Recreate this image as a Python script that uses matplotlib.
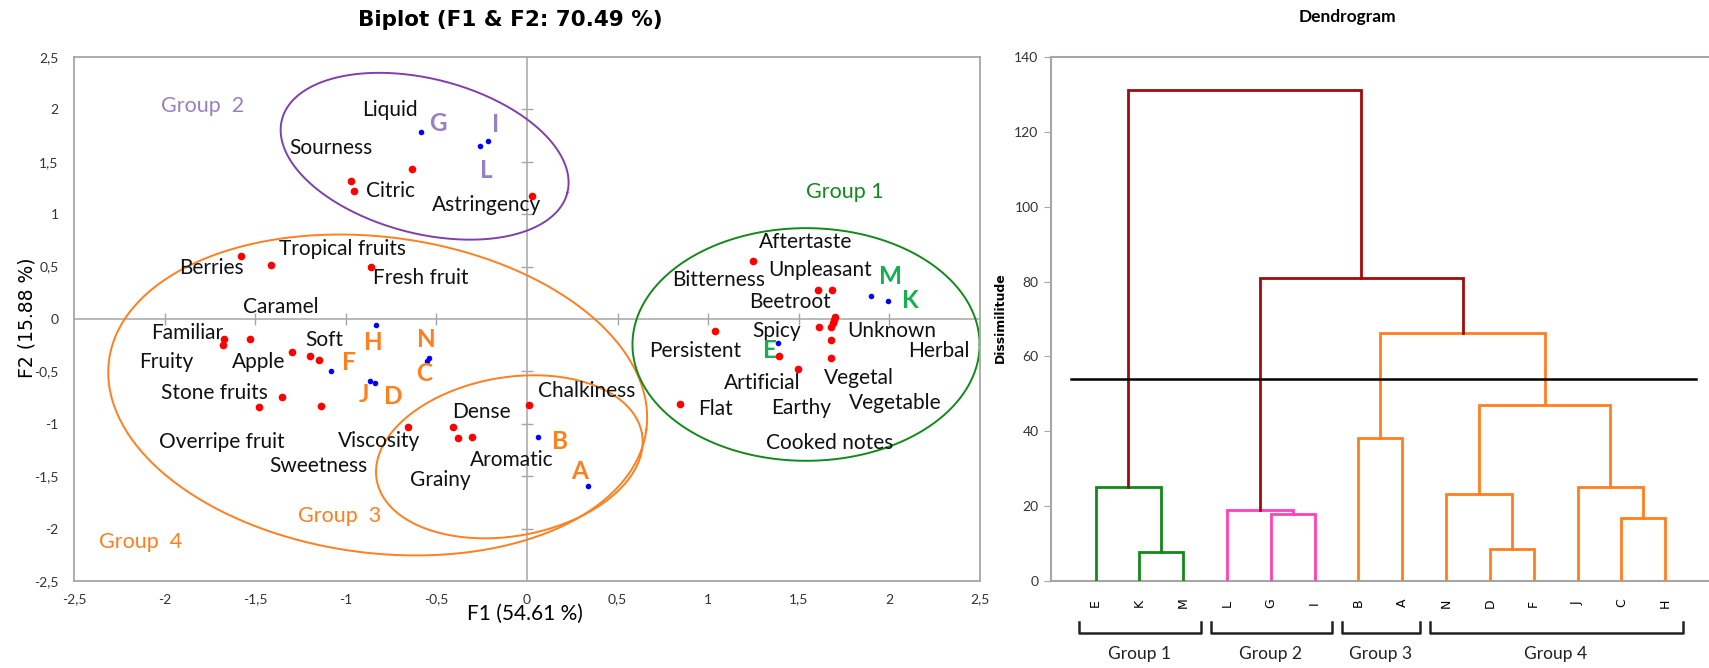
import numpy as np
import matplotlib.pyplot as plt

plt.rcParams['font.family'] = ['Lato', 'DejaVu Sans']

# ---- biplot data ----
# attributes (red)
attr_x = [-0.635, -0.973, -0.956, 0.030,
          -1.579, -1.414, -0.860,
          -1.670, -1.677, -1.527, -1.296, -1.195, -1.150, -1.350, -1.478, -1.135,
          0.012, -0.658, -0.406, -0.379, -0.303,
          1.249, 1.604, 1.681, 1.035, 1.700, 1.695, 1.687, 1.680, 1.613, 1.676, 1.676, 1.388, 1.493, 0.846]
attr_y = [1.430, 1.320, 1.218, 1.171,
          0.604, 0.516, 0.497,
          -0.190, -0.250, -0.190, -0.315, -0.356, -0.388, -0.748, -0.839, -0.830,
          -0.820, -1.028, -1.028, -1.134, -1.127,
          0.553, 0.273, 0.273, -0.118, 0.016, -0.010, -0.040, -0.080, -0.073, -0.200, -0.372, -0.353, -0.474, -0.807]
attr_names = ["Liquid", "Sourness", "Citric", "Astringency", "Tropical fruits", "Berries",
              "Fresh fruit", "Caramel", "Familiar", "Soft", "Fruity", "Apple", "Stone fruits",
              "Chalkiness", "Dense", "Overripe fruit", "Viscosity", "Aromatic", "Sweetness", "Grainy",
              "Aftertaste", "Unpleasant", "Bitterness", "Beetroot", "Spicy", "Unknown", "Persistent",
              "Herbal", "Artificial", "Vegetal", "Flat", "Earthy", "Vegetable", "Cooked notes"]
attr_lx = [-0.754, -1.081, -0.754, -0.224, -1.020, -1.739,
           -0.586, -1.357, -1.874, -1.121, -1.993, -1.480, -1.727,
           0.330, -0.249, -1.687, -0.815, -0.084, -1.153, -0.478,
           1.537, 1.617, 1.055, 1.452, 1.375, 2.013, 0.927,
           2.273, 1.297, 1.830, 1.042, 1.513, 2.031, 1.668]
attr_ly = [1.994, 1.630, 1.218, 1.085, 0.665, 0.484,
           0.389, 0.111, -0.133, -0.200, -0.411, -0.411, -0.703,
           -0.690, -0.886, -1.177, -1.165, -1.348, -1.402, -1.538,
           0.731, 0.467, 0.372, 0.165, -0.111, -0.118, -0.302,
           -0.302, -0.613, -0.566, -0.861, -0.852, -0.798, -1.179]

# observations (blue)
obs_names = ["G", "I", "L", "H", "F", "N", "C", "J", "D", "B", "A", "E", "M", "K"]
obs_x = [-0.586, -0.214, -0.259, -0.835, -1.079, -0.540, -0.550, -0.869, -0.837, 0.059, 0.335, 1.383, 1.896, 1.991]
obs_y = [1.780, 1.700, 1.652, -0.055, -0.495, -0.370, -0.400, -0.593, -0.606, -1.127, -1.595, -0.232, 0.222, 0.172]
obs_group = [2, 2, 2, 4, 4, 4, 4, 4, 4, 3, 3, 1, 1, 1]
obs_lx = [-0.493, -0.175, -0.227, -0.850, -0.985, -0.557, -0.569, -0.901, -0.736, 0.182, 0.288, 1.339, 2.004, 2.117]
obs_ly = [1.867, 1.858, 1.415, -0.222, -0.411, -0.200, -0.522, -0.718, -0.744, -1.165, -1.456, -0.296, 0.410, 0.181]

f1_pct = 54.61
f2_pct = 15.88

# ---- dendrogram data ----
leaves = ["E", "K", "M", "L", "G", "I", "B", "A", "N", "D", "F", "J", "C", "H"]
merge_name = ["KM", "EKM", "GI", "LGI", "BA", "DF", "NDF", "CH", "JCH", "G4", "G34", "G234", "ALL"]
merge_left = ["K", "E", "G", "L", "B", "D", "N", "C", "J", "NDF", "BA", "LGI", "EKM"]
merge_right = ["M", "KM", "I", "GI", "A", "F", "DF", "H", "CH", "JCH", "G4", "G34", "G234"]
merge_height = [7.8, 25.1, 17.9, 19.1, 38.1, 8.6, 23.3, 16.7, 25.1, 46.9, 66.2, 81.0, 131.1]
cut_level = 54
group_names = ["Group 1", "Group 2", "Group 3", "Group 4"]
group_first = [0, 3, 6, 8]
group_last = [2, 5, 7, 13]

orange = "#ff7f1e"
green_dk = "#118a1a"
green_lt = "#16b04e"
purple = "#7f3fae"
purple_lt = "#9a80c0"
pink = "#ff3fc0"
darkred = "#a30a0a"
gray = "#a6a6a6"

fig = plt.figure(figsize=(17.09, 6.68), dpi=100)
W, H = 1709, 668

# ================= biplot =================
ax = fig.add_axes([74 / W, 1 - 581 / H, 906 / W, 524 / H])
ax.set_xlim(-2.5, 2.5)
ax.set_ylim(-2.5, 2.5)
for s in ax.spines.values():
    s.set_color(gray)
    s.set_linewidth(1.3)
ax.axhline(0, color=gray, lw=1.1, zorder=1)
ax.axvline(0, color=gray, lw=1.1, zorder=1)

ticks = np.arange(-2.5, 2.51, 0.5)
labs = [("%g" % t).replace(".", ",") for t in ticks]
ax.set_xticks(ticks)
ax.set_xticklabels(labs)
ax.set_yticks(ticks)
ax.set_yticklabels(labs)
ax.tick_params(length=0, labelsize=10, labelcolor="#333333")
ax.tick_params(axis="x", pad=9)
ax.tick_params(axis="y", pad=11)
inner = ticks[(np.abs(ticks) > 0.01) & (np.abs(ticks) < 2.4)]
ax.plot(inner, np.zeros(len(inner)), ls="none", marker="|", ms=8, mew=1.0, color=gray, zorder=1)
ax.plot(np.zeros(len(inner)), inner, ls="none", marker="_", ms=8, mew=1.0, color=gray, zorder=1)

# group ellipses, semi-axes given in x units and corrected for the axes aspect
ky = (5 / 524) / (5 / 906)


def ring(cx, cy, a, b, ang, color):
    t = np.linspace(0, 2 * np.pi, 300)
    u = a * np.cos(t)
    v = b * np.sin(t)
    th = np.deg2rad(ang)
    xs = cx + u * np.cos(th) - v * np.sin(th)
    ys = cy + (u * np.sin(th) + v * np.cos(th)) * ky
    ax.plot(xs, ys, color=color, lw=1.4, zorder=2)


ring(-0.565, 1.553, 0.813, 0.427, -14.4, purple)
ring(-0.824, -0.725, 1.495, 0.872, -7.3, orange)
ring(-0.0975, -1.315, 0.743, 0.438, 9.9, orange)
ring(1.54, -0.243, 0.958, 0.642, 0, green_dk)

ax.plot(attr_x, attr_y, "o", color="#ff0000", ms=5.5, mec="none", zorder=3)
ax.plot(obs_x, obs_y, "o", color="#0000ff", ms=4, mec="none", zorder=3)

for n, x, y in zip(attr_names, attr_lx, attr_ly):
    ax.text(x, y, n, ha="center", va="center", fontsize=15, color="#111111")

letter_col = {1: green_lt, 2: purple_lt, 3: orange, 4: orange}
for n, x, y, g in zip(obs_names, obs_lx, obs_ly, obs_group):
    ax.text(x, y, n, ha="center", va="center", fontsize=17.5, fontweight="bold", color=letter_col[g])

ax.text(-1.788, 2.035, "Group  2", ha="center", va="center", fontsize=15.5, color=purple_lt)
ax.text(1.755, 1.214, "Group 1", ha="center", va="center", fontsize=15.5, color=green_dk)
ax.text(-1.032, -1.877, "Group  3", ha="center", va="center", fontsize=15.5, color=orange)
ax.text(-2.133, -2.127, "Group  4", ha="center", va="center", fontsize=15.5, color=orange)

fig.text(510 / W, 1 - 20 / H, "Biplot (F1 & F2: 70.49 %)", ha="center", va="center",
         fontsize=15.5, fontweight="bold", family="DejaVu Sans")
fig.text(525 / W, 1 - 614 / H, "F1 (%.2f %%)" % f1_pct, ha="center", va="center", fontsize=15)
fig.text(27 / W, 1 - 318 / H, "F2 (%.2f %%)" % f2_pct, ha="center", va="center", rotation=90,
         fontsize=13.5, family="DejaVu Sans")

# ================= dendrogram =================
dx = fig.add_axes([1051 / W, 1 - 581 / H, 658 / W, 524 / H])
dx.set_xlim(-1.016, 14.0)
dx.set_ylim(0, 140)
dx.spines["right"].set_visible(False)
for s in ["left", "top", "bottom"]:
    dx.spines[s].set_color(gray)
    dx.spines[s].set_linewidth(1.5)
dx.set_xticks([])
dx.set_yticks(np.arange(0, 141, 20))
dx.tick_params(axis="y", length=5, color=gray, labelsize=10, labelcolor="#333333", pad=4)

link_col = [green_dk, green_dk, pink, pink, orange, orange, orange, orange, orange,
            orange, orange, darkred, darkred]
pos = {n: (i, 0.0) for i, n in enumerate(leaves)}
for name, l, r, h, c in zip(merge_name, merge_left, merge_right, merge_height, link_col):
    xl, yl = pos[l]
    xr, yr = pos[r]
    dx.plot([xl, xl, xr, xr], [yl, h, h, yr], color=c, lw=2.0, solid_joinstyle="miter", zorder=3)
    pos[name] = ((xl + xr) / 2, h)

dx.plot([-0.55, 13.71], [cut_level, cut_level], color="black", lw=1.8, zorder=4)

for i, n in enumerate(leaves):
    dx.text(i, -5.9, n, ha="center", va="center", rotation=90, fontsize=9,
            family="DejaVu Sans", clip_on=False)

for g, a, b in zip(group_names, group_first, group_last):
    x0, x1 = a - 0.37, b + 0.4
    dx.plot([x0, x0, x1, x1], [-11.0, -13.9, -13.9, -11.0], color="#222222", lw=1.8, clip_on=False)
    dx.text((a + b) / 2, -19.5, g, ha="center", va="center", fontsize=12.5, color="#222222",
            clip_on=False)

fig.text(1000 / W, 1 - 318 / H, "Dissimilitude", ha="center", va="center", rotation=90,
         fontsize=9, fontweight="bold", family="DejaVu Sans")
fig.text(1347 / W, 1 - 17 / H, "Dendrogram", ha="center", va="center", fontsize=12.5,
         fontweight="bold")

fig.savefig("out.png", dpi=100)
